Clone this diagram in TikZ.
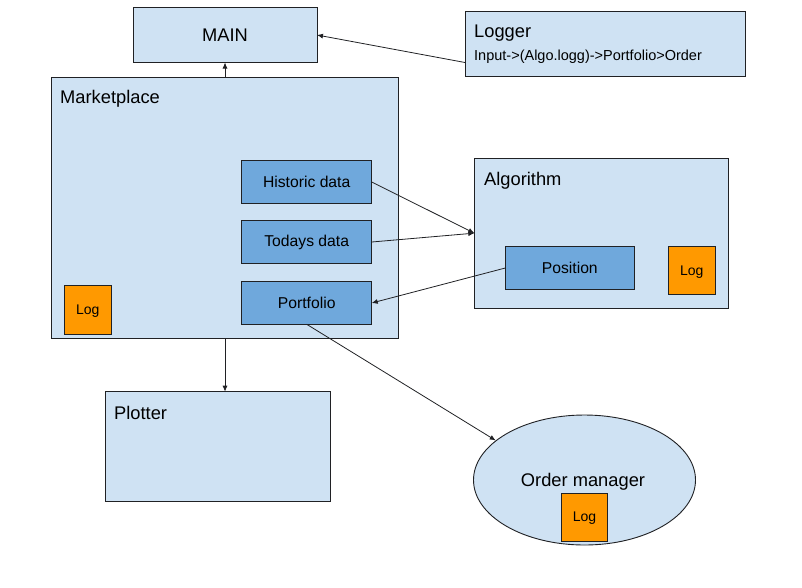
\documentclass[tikz,border=0pt]{standalone}
\usepackage{fontspec}
\setmainfont{Liberation Sans}
\usetikzlibrary{arrows.meta,shapes.geometric}
\definecolor{lblue}{HTML}{CFE2F3}
\definecolor{mblue}{HTML}{6FA8DC}
\definecolor{logorange}{HTML}{FF9900}
\definecolor{edgecol}{HTML}{202124}
\begin{document}
\begin{tikzpicture}[x=1pt,y=-1pt,
  basebox/.style={draw=edgecol,line width=0.9pt,anchor=north west,inner sep=0pt,outer sep=0pt},
  outerbox/.style={basebox,fill=lblue},
  innerbox/.style={basebox,fill=mblue,font=\fontsize{15.7}{18}\selectfont},
  logbox/.style={basebox,fill=logorange,minimum width=47pt,text depth=0.5pt,font=\fontsize{14}{16}\selectfont},
  titletext/.style={anchor=west,inner sep=0pt,font=\fontsize{18.3}{22}\selectfont},
  conn/.style={draw=edgecol,line width=0.8pt,-{Latex[length=6pt,width=5pt]}}]
\useasboundingbox (0,0) rectangle (802,587);

% outer boxes
\node[outerbox,minimum width=184pt,minimum height=55pt,font=\fontsize{18.3}{22}\selectfont] (main) at (133,7.5) {MAIN};
\node[outerbox,minimum width=280pt,minimum height=65pt] (logger) at (465,11) {};
\node[titletext] (loggert) at (474,33) {Logger};
\node[anchor=west,inner sep=0pt,font=\fontsize{14.5}{17}\selectfont] (loggerl) at (474,56.5) {Input->(Algo.logg)->Portfolio>Order};

\node[outerbox,minimum width=346.6pt,minimum height=261.3pt] (mkt) at (51.7,77) {};
\node[titletext] (mktt) at (60,99) {Marketplace};

\node[outerbox,minimum width=254.4pt,minimum height=149.7pt] (alg) at (474.3,158.3) {};
\node[titletext] (algt) at (484,181) {Algorithm};

\node[outerbox,minimum width=225.4pt,minimum height=109.3pt] (plot) at (105.3,391.7) {};
\node[titletext] (plott) at (114,413) {Plotter};

\node[ellipse,draw=edgecol,line width=0.9pt,fill=lblue,minimum width=222pt,minimum height=130pt,inner sep=0pt,font=\fontsize{18.3}{22}\selectfont] (om) at (584.5,480) {};
\node[inner sep=0pt,font=\fontsize{18.3}{22}\selectfont] (omt) at (583,482) {Order manager};

% inner boxes
\node[innerbox,minimum width=130pt,minimum height=42.6pt] (hist) at (241.7,160.7) {Historic data};
\node[innerbox,minimum width=130pt,minimum height=42.6pt] (today) at (241.7,220.7) {Todays data};
\node[innerbox,minimum width=130pt,minimum height=42.6pt] (port) at (241.7,281.7) {Portfolio};
\node[innerbox,minimum width=129pt,minimum height=42.6pt] (pos) at (505.3,246.7) {Position};

% log boxes
\node[logbox,minimum height=49pt] (logm) at (64.3,285.3) {Log};
\node[logbox,minimum height=47.6pt] (loga) at (668.3,246.7) {Log};
\node[logbox,minimum width=46.4pt,minimum height=47.7pt] (logo) at (561.3,493.3) {Log};

% connectors
\draw[conn] ([yshift=-19pt]logger.west) -- (main.east);
\draw[conn] (mkt.north) -- (main.south);
\draw[conn] (hist.east) -- (alg.west);
\draw[conn] (today.east) -- (alg.west);
\draw[conn] (pos.west) -- (port.east);
\draw[conn] (port.south) -- (om.156);
\draw[conn] (mkt.south) -- (mkt.south |- plot.north);
\end{tikzpicture}
\end{document}
